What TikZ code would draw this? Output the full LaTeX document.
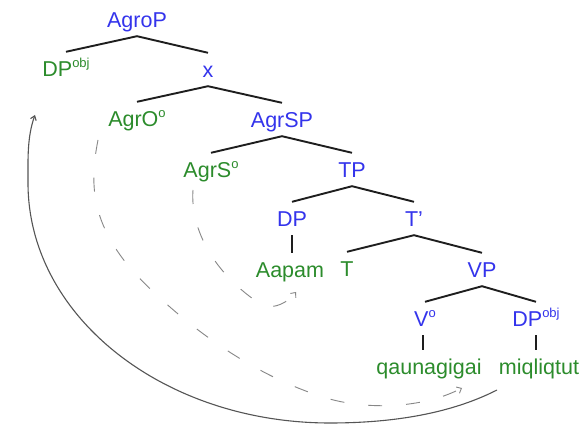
\documentclass[tikz,border=0pt]{standalone}
\usepackage{fontspec}
\setmainfont{Liberation Sans}
\usetikzlibrary{arrows.meta}
\definecolor{lblue}{RGB}{52,52,236}
\definecolor{lgreen}{RGB}{44,140,44}
\definecolor{treeline}{RGB}{30,30,30}
\definecolor{arcgray}{RGB}{85,85,85}
\definecolor{dashgray}{RGB}{135,135,135}
\newcommand{\supx}[1]{\raisebox{0.42em}{\fontsize{13}{13}\selectfont #1}}
\begin{document}
\begin{tikzpicture}[x=1pt,y=-1pt,
  lab/.style={anchor=base,font=\fontsize{21.5}{21.5}\selectfont,text height=17pt,text depth=0pt,inner ysep=8pt,inner xsep=0pt},
  bl/.style={lab,text=lblue},
  gr/.style={lab,text=lgreen},
  branch/.style={draw=treeline,line width=1.9pt},
  movearc/.style={draw=arcgray,line width=1.1pt,-{Straight Barb[length=4pt,width=6pt]}},
  agrarc/.style={draw=dashgray,line width=0.9pt,dash pattern=on 14pt off 24pt,-{Straight Barb[length=4pt,width=7pt]}}]
\useasboundingbox (0,0) rectangle (582,430);
\fill[white] (0,0) rectangle (582,430);
% nodes
\node[bl] (AgroP) at (137,28) {AgroP};
\node[gr] (DPobj) at (66,77) {DP\supx{obj}};
\node[bl] (x) at (208,78) {x};
\node[gr] (AgrO) at (137,127) {AgrO\supx{o}};
\node[bl] (AgrSP) at (282,128) {AgrSP};
\node[gr] (AgrS) at (211,178) {AgrS\supx{o}};
\node[bl] (TP) at (352,178) {TP};
\node[bl] (DP) at (292,227) {DP};
\node[bl] (Tbar) at (414,227) {T'};
\node[gr] (Aapam) at (290,278) {Aapam};
\node[gr] (T) at (347,277) {T};
\node[bl] (VP) at (482,278) {VP};
\node[bl] (V) at (425,327) {V\supx{o}};
\node[bl] (DPobjB) at (536,327) {DP\supx{obj}};
\node[gr] (qaun) at (429,375) {qaunagigai};
\node[gr] (miq) at (539,375) {miqliqtut};
% branches
\draw[branch] (DPobj.north) -- (AgroP.south) -- (x.north);
\draw[branch] (AgrO.north) -- (x.south) -- (AgrSP.north);
\draw[branch] (AgrS.north) -- (AgrSP.south) -- (TP.north);
\draw[branch] (DP.north) -- (TP.south) -- (Tbar.north);
\draw[branch] (T.north) -- (Tbar.south) -- (VP.north);
\draw[branch] (V.north) -- (VP.south) -- (DPobjB.north);
\draw[branch,line width=1.3pt] (DP.south) -- (DP.south |- Aapam.north);
\draw[branch,line width=1.3pt] ([xshift=-2pt]V.south) -- ([xshift=-2pt]V.south |- qaun.north);
\draw[branch,line width=1.3pt] (DPobjB.south) -- (DPobjB.south |- miq.north);
% movement arc
\coordinate (mvS) at (497,390);
\coordinate (mvE) at (35,115);
\draw[movearc] (mvS) .. controls (448,415) and (388,423) .. (330,423)
  .. controls (163,423) and (28,316) .. (28,183)
  .. controls (28,160) and (27,137) .. (mvE);
% agreement arcs
\coordinate (aoS) at (98,140);
\coordinate (aoE) at (462,388);
\draw[agrarc] (aoS) .. controls (88,190) and (95,225) .. (130,268)
  .. controls (170,312) and (240,370) .. (320,396)
  .. controls (360,410) and (420,410) .. (aoE);
\coordinate (asS) at (193,190);
\coordinate (asE) at (296,292);
\draw[agrarc] (asS) .. controls (190,230) and (215,275) .. (262,305)
  .. controls (275,310) and (288,302) .. (asE);
\end{tikzpicture}
\end{document}
